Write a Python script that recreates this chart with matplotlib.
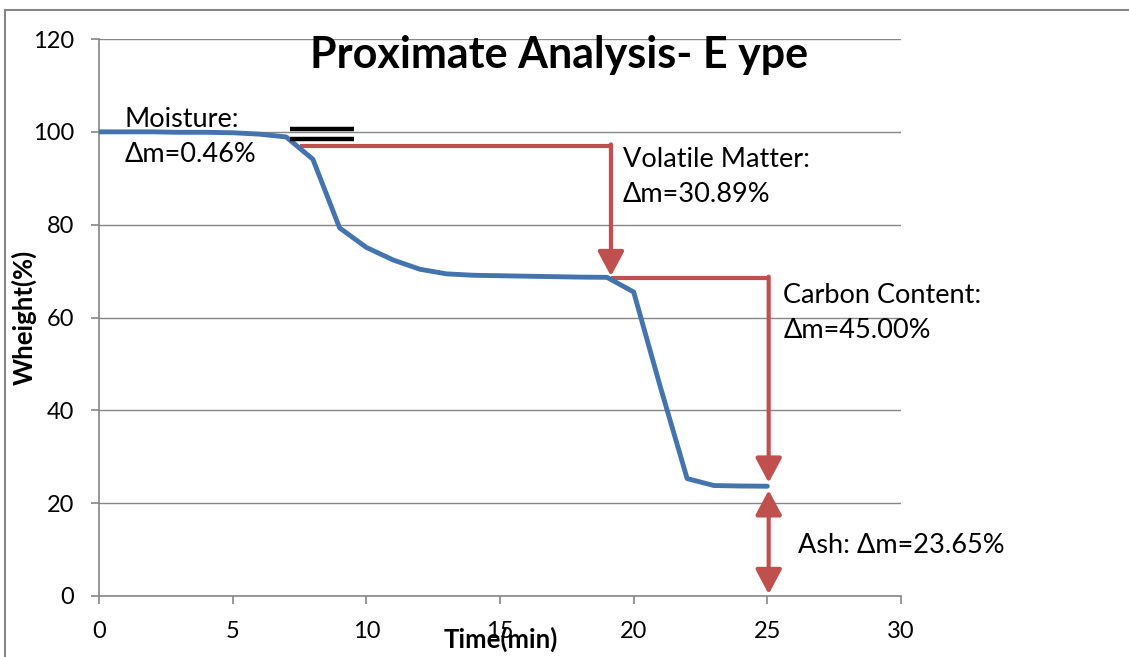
import matplotlib.pyplot as plt
from matplotlib.lines import Line2D

plt.rcParams['font.family'] = ['Lato', 'DejaVu Sans']

# TGA curve
time_min = [0, 1, 2, 3, 4, 5, 6, 7, 8, 9, 10, 11, 12, 13, 14, 15, 16, 17, 18, 19,
            20, 21, 22, 23, 24, 25]
weight = [100, 100, 100, 99.9, 99.9, 99.8, 99.5, 98.9, 94.1, 79.3, 75.1, 72.4, 70.4,
          69.4, 69.1, 69.0, 68.9, 68.8, 68.7, 68.65, 65.5, 45.0, 25.3, 23.8, 23.7, 23.65]

# annotation steps (data units)
moist_x = [7.15, 9.55]
moist_y = [100.6, 98.5]
vm_x = [7.5, 19.15]
vm_y = [97.0, 68.9]
cc_x = [19.15, 25.05]
cc_y = [68.5, 24.4]
ash_x = 25.05
ash_y = [22.8, 0.4]

# text lines: x, baseline y, text
labels = [
    (0.97, 101.0, "Moisture:"),
    (0.97, 93.5, "Δm=0.46%"),
    (19.6, 92.4, "Volatile Matter:"),
    (19.6, 84.9, "Δm=30.89%"),
    (25.6, 63.2, "Carbon Content:"),
    (25.6, 55.6, "Δm=45.00%"),
    (26.15, 9.3, "Ash: Δm=23.65%"),
]

blue = '#4474AD'
red = '#C0504D'
grey = '#868686'

fig = plt.figure(figsize=(11.29, 6.57), dpi=100)
ax = fig.add_axes([99 / 1129, 1 - 596 / 657, 802 / 1129, 557 / 657])

ax.set_xlim(0, 30)
ax.set_ylim(0, 120)
ax.set_xticks(range(0, 31, 5))
ax.set_yticks(range(0, 121, 20))
ax.yaxis.grid(True, color=grey, linewidth=1.0)
ax.set_axisbelow(True)
for s in ['top', 'right']:
    ax.spines[s].set_visible(False)
for s in ['left', 'bottom']:
    ax.spines[s].set_color(grey)
    ax.spines[s].set_linewidth(1.2)
ax.tick_params(direction='out', length=6, width=1.2, color=grey, labelsize=17, pad=12)

ax.plot(time_min, weight, color=blue, linewidth=3.5, solid_capstyle='round', zorder=3)

# moisture marker (two black bars)
for yy in moist_y:
    ax.plot(moist_x, [yy, yy], color='black', linewidth=3.2, zorder=4, solid_capstyle='butt')

arrow_kw = dict(arrowstyle='-|>,head_length=0.75,head_width=0.4', color=red,
                linewidth=3, mutation_scale=20, shrinkA=0, shrinkB=0)

# volatile matter
ax.plot(vm_x, [vm_y[0], vm_y[0]], color=red, linewidth=3, zorder=2, solid_capstyle='butt')
ax.annotate('', xy=(vm_x[1], vm_y[1]), xytext=(vm_x[1], vm_y[0] + 0.3), arrowprops=arrow_kw, zorder=2)

# carbon content
ax.plot(cc_x, [cc_y[0], cc_y[0]], color=red, linewidth=3, zorder=2, solid_capstyle='butt')
ax.annotate('', xy=(cc_x[1], cc_y[1]), xytext=(cc_x[1], cc_y[0] + 0.3), arrowprops=arrow_kw, zorder=2)

# ash (double headed)
ax.annotate('', xy=(ash_x, ash_y[1]), xytext=(ash_x, ash_y[0]),
            arrowprops=dict(arrow_kw, arrowstyle='<|-|>,head_length=0.75,head_width=0.4'), zorder=2)

for x, y, t in labels:
    ax.text(x, y, t, fontsize=19.5, ha='left', va='baseline')

ax.text(0.574, 0.948, 'Proximate Analysis- E ype', transform=ax.transAxes,
        fontsize=31, fontweight='bold', ha='center', va='baseline')

fig.text(24 / 1129, 1 - 317 / 657, 'Wheight(%)', rotation=90, fontsize=18.5,
         fontweight='bold', ha='center', va='center')
fig.text(501 / 1129, 1 - 648 / 657, 'Time(min)', fontsize=18.5,
         fontweight='bold', ha='center', va='baseline')

# chart-area border (left and top edges visible in the crop)
fig.add_artist(Line2D([5 / 1129, 5 / 1129], [0, 1 - 10 / 657], color=grey, linewidth=1.5))
fig.add_artist(Line2D([5 / 1129, 1], [1 - 10 / 657, 1 - 10 / 657], color=grey, linewidth=1.5))

fig.savefig('out.png', dpi=100)
